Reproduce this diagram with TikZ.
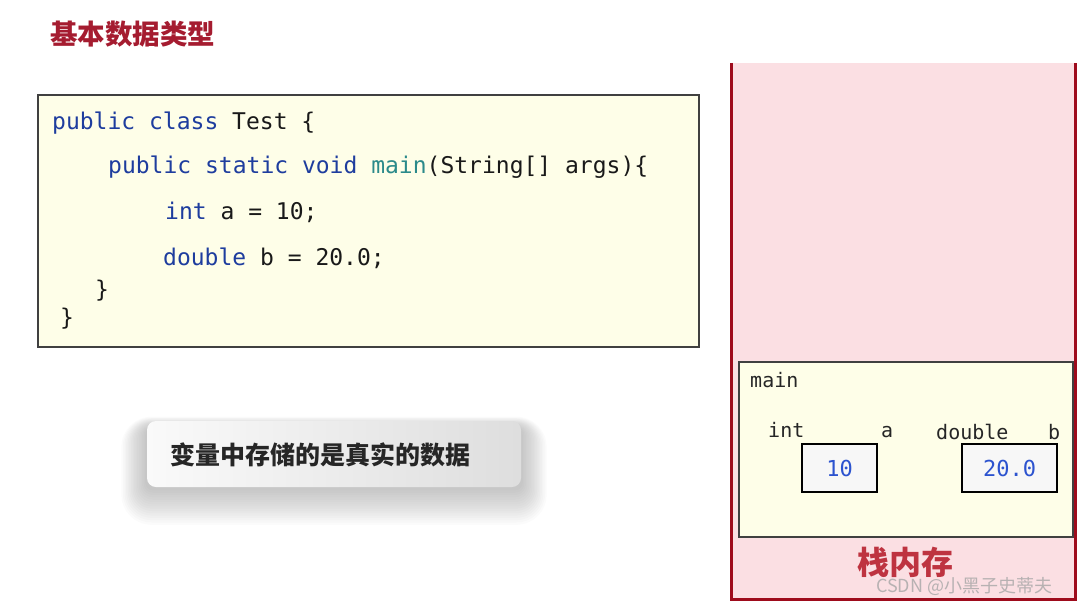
\documentclass[tikz,border=0pt]{standalone}
\usepackage{fontspec}
\newfontfamily\codefont{DejaVu Sans Mono}
\newfontfamily\cjk{Noto Sans CJK SC}
\definecolor{titlered}{HTML}{A51C30}
\definecolor{stackred}{HTML}{9E0B1C}
\definecolor{stackpink}{HTML}{FBDFE3}
\definecolor{codebg}{HTML}{FEFEE8}
\definecolor{kwblue}{HTML}{1E3D9E}
\definecolor{mainteal}{HTML}{2B8A8A}
\definecolor{valblue}{HTML}{2C53CF}
\definecolor{labelred}{HTML}{BE3340}
\tikzset{
  codeline/.style={anchor=base west, inner sep=0pt, text=black!90, font=\codefont\fontsize{23}{23}\selectfont},
  stacklabel/.style={anchor=base west, inner sep=0pt, text=black!85, font=\codefont\fontsize{20}{20}\selectfont},
  valbox/.style={draw=black, line width=2.5pt, fill=white!97!black, minimum height=48pt, inner sep=0pt, text=valblue, font=\codefont\fontsize{22}{22}\selectfont},
  msgbox/.style={rounded corners=9pt, left color=white!98!black, right color=black!13, minimum width=374pt, minimum height=66pt, inner sep=0pt}
}
\begin{document}
\begin{tikzpicture}[x=1pt, y=-1pt]
                \useasboundingbox (0,0) rectangle (1081,602);
                \node[anchor=base west, inner sep=0pt, text=titlered, font=\cjk\bfseries\fontsize{27.5}{27.5}\selectfont] (title) at (50,45) {基本数据类型};

                \draw[black!75, fill=codebg, line width=1.2pt] (38,95) rectangle (699,347);
                \node[codeline] (l1) at (52,129) {\textcolor{kwblue}{public class} Test \{};
                \node[codeline] (l2) at (108,173) {\textcolor{kwblue}{public static void} \textcolor{mainteal}{main}(String[] args)\{};
                \node[codeline] (l3) at (165,219) {\textcolor{kwblue}{int} a = 10;};
                \node[codeline] (l4) at (163,265) {\textcolor{kwblue}{double} b = 20.0;};
                \node[codeline] (l5) at (95,297) {\}};
                \node[codeline] (l6) at (60,325) {\}};

                \foreach \i in {1,...,16}
                    \fill[black, opacity=0.017, rounded corners=6pt+\i*1.5pt] (147-\i*1.6,428-\i*0.7) rectangle (521+\i*1.6,488+\i*2.3);
                \node[msgbox] (msg) at (334,454) {};
                \node[anchor=west, inner sep=0pt, text=black!85, font=\cjk\bfseries\fontsize{25}{25}\selectfont] (msgtext) at (170,455) {变量中存储的是真实的数据};

                \fill[stackpink] (731,63) rectangle (1075,599);
                \draw[stackred, line width=3pt] (731,63) -- (731,599) -- (1075,599) -- (1075,63);
                \draw[black!75, fill=codebg, line width=1.2pt] (739,362) rectangle (1073,537);
                \node[stacklabel] (mainlbl) at (750,387) {main};
                \node[stacklabel] (inta) at (768,437) {int};
                \node[stacklabel] (namea) at (881,437) {a};
                \node[stacklabel] (doubleb) at (936,439) {double};
                \node[stacklabel] (nameb) at (1048,439) {b};
                \node[valbox, minimum width=75pt] (boxa) at (839.5,468) {10};
                \node[valbox, minimum width=95pt] (boxb) at (1009.5,468) {20.0};

                \node[anchor=base west, inner sep=0pt, text=labelred, font=\cjk\bfseries\fontsize{32}{32}\selectfont] (stack) at (857,574) {栈内存};
                \node[anchor=base west, inner sep=0pt, text=black!35, opacity=0.8, font=\cjk\fontsize{18}{18}\selectfont] (mark) at (876,592) {CSDN @小黑子史蒂夫};
            \end{tikzpicture}
\end{document}
